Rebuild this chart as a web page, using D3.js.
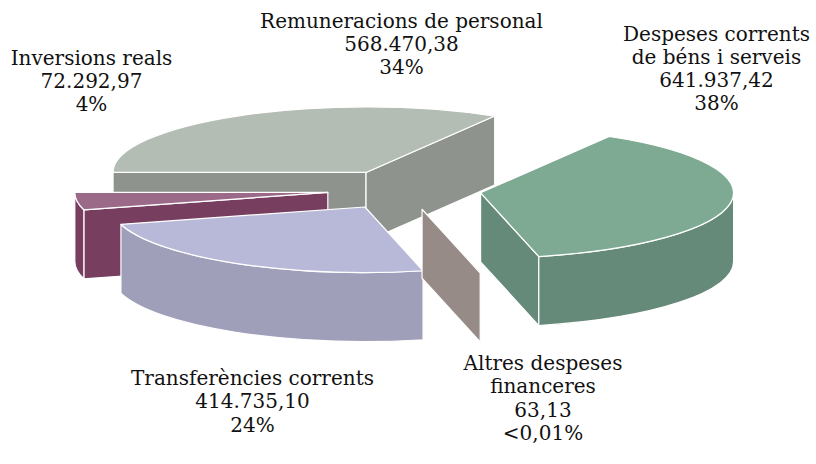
<!DOCTYPE html>
<html><head><meta charset="utf-8">
<script src="https://cdn.jsdelivr.net/npm/d3@7"></script>
<style>body{margin:0;background:#fff}svg{display:block}</style>
</head><body><svg id="c" width="816" height="464"></svg>
<script>
// ---- data ----
const categories = ["Remuneracions de personal","Despeses corrents de béns i serveis","Altres despeses financeres","Transferències corrents","Inversions reals"];
const values = [568470.38, 641937.42, 63.13, 414735.10, 72292.97];
const percentLabels = ["34%","38%","<0,01%","24%","4%"];
const labelLines = [["Remuneracions de personal"],["Despeses corrents","de béns i serveis"],["Altres despeses","financeres"],["Transferències corrents"],["Inversions reals"]];
const topColors = ["#b4bdb4","#7eaa94","#a89c98","#b8b8d9","#9b6a88"];
const sideColors = ["#8e938e","#668a79","#968b87","#9f9fb9","#773e5f"];

// ---- layout ----
const W = 816, H = 464;
const cx = 404.3, cy = 189.8, rx = 253, ry = 65.5, depth = 69, explode = 0.305;
const labelPos = [[401.5, 27.5],[716.5, 40.5],[543, 370],[252.5, 385],[91.5, 64.5]];
const lineH = 23.3;

const svg = d3.select("#c");
const loc = d3.formatLocale({decimal: ",", thousands: ".", grouping: [3], currency: ["", ""]});
const fmt = loc.format(",.2f");

const pie = d3.pie().sort(null).value(d => d).startAngle(-Math.PI/2).endAngle(3*Math.PI/2);
const arcs = pie(values).map((a, i) => {
  const ts = a.startAngle - Math.PI/2, te = a.endAngle - Math.PI/2, tm = (ts + te)/2;
  return {i, ts, te, tm, ox: cx + explode*rx*Math.cos(tm), oy: cy + explode*ry*Math.sin(tm)};
});

function P(s, t, dy) { return [s.ox + rx*Math.cos(t), s.oy + ry*Math.sin(t) + (dy||0)]; }
function arcTo(p, large, sweep) { return `A${rx},${ry} 0 ${large} ${sweep} ${p[0]},${p[1]}`; }

const g = svg.append("g");
const order = arcs.slice().sort((a, b) => Math.sin(a.tm) - Math.sin(b.tm));
order.forEach(s => {
  const sg = g.append("g");
  const c0 = [s.ox, s.oy], c1 = [s.ox, s.oy + depth];
  const wall = t => {
    const p0 = P(s, t), p1 = P(s, t, depth);
    return `M${c0}L${p0}L${p1}L${c1}Z`;
  };
  if (Math.cos(s.ts) < 0) sg.append("path").attr("d", wall(s.ts)).attr("fill", sideColors[s.i]);
  if (Math.cos(s.te) > 0) sg.append("path").attr("d", wall(s.te)).attr("fill", sideColors[s.i]);
  const lo = Math.max(s.ts, 0), hi = Math.min(s.te, Math.PI);
  if (hi - lo > 0.001) {
    const a = P(s, lo), b = P(s, hi), b1 = P(s, hi, depth), a1 = P(s, lo, depth);
    const lg = (hi - lo) > Math.PI ? 1 : 0;
    sg.append("path").attr("d", `M${a}${arcTo(b, lg, 1)}L${b1}${arcTo(a1, lg, 0)}Z`).attr("fill", sideColors[s.i]);
  }
  if (s.te - s.ts > 0.001) {
    const a = P(s, s.ts), b = P(s, s.te);
    const lg = (s.te - s.ts) > Math.PI ? 1 : 0;
    sg.append("path").attr("d", `M${c0}L${a}${arcTo(b, lg, 1)}Z`).attr("fill", topColors[s.i]);
  }
  sg.selectAll("path").attr("stroke", "#fff").attr("stroke-width", 1.2).attr("stroke-linejoin", "round");
});

// ---- labels ----
const lg = svg.append("g").attr("font-family", "'DejaVu Serif', serif").attr("font-size", 20)
  .attr("fill", "#111").attr("text-anchor", "middle");
arcs.forEach(s => {
  const lines = labelLines[s.i].concat([fmt(values[s.i]), percentLabels[s.i]]);
  const [x, y] = labelPos[s.i];
  const t = lg.append("text").attr("x", x).attr("y", y);
  lines.forEach((ln, k) => t.append("tspan").attr("x", x).attr("y", y + k*lineH).text(ln));
});
</script></body></html>
